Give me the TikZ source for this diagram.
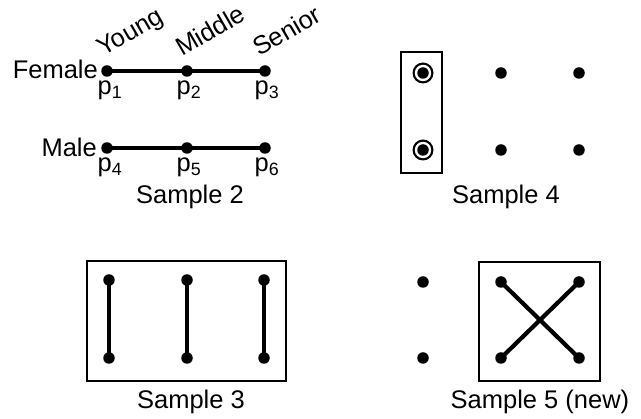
\documentclass[tikz,border=0pt]{standalone}
\usepackage{fontspec}
\setmainfont{Liberation Sans}
\begin{document}
\begin{tikzpicture}[x=1pt,y=-1pt,
  dot/.style={circle,fill=black,inner sep=0pt,minimum size=11.5pt},
  edge/.style={line width=4.2pt},
  frame/.style={draw,line width=2pt},
  lbl/.style={font=\fontsize{25.5}{30}\selectfont,inner sep=0pt},
  rlbl/.style={lbl,rotate=30,anchor=base west}]
\useasboundingbox (0,0) rectangle (641,419);
% Sample 2
\node[dot] (p1) at (107,71) {};
\node[dot] (p2) at (187,71) {};
\node[dot] (p3) at (265,71) {};
\node[dot] (p4) at (107,148) {};
\node[dot] (p5) at (187,148) {};
\node[dot] (p6) at (265,148) {};
\draw[edge] (p1.center) -- (p2.center) -- (p3.center);
\draw[edge] (p4.center) -- (p5.center) -- (p6.center);
\node[lbl,anchor=base east] (female) at (98,79) {Female};
\node[lbl,anchor=base east] (male) at (97,157) {Male};
\node[rlbl] (young) at (103,57) {Young};
\node[rlbl] (middle) at (182,57) {Middle};
\node[rlbl] (senior) at (259,57) {Senior};
\node[lbl,anchor=base] (l1) at (110,95) {p\textsubscript{1}};
\node[lbl,anchor=base] (l2) at (189,95) {p\textsubscript{2}};
\node[lbl,anchor=base] (l3) at (267,95) {p\textsubscript{3}};
\node[lbl,anchor=base] (l4) at (110,172) {p\textsubscript{4}};
\node[lbl,anchor=base] (l5) at (189,172) {p\textsubscript{5}};
\node[lbl,anchor=base] (l6) at (267,172) {p\textsubscript{6}};
\node[lbl,anchor=base] (s2) at (190,204) {Sample 2};
% Sample 4
\draw[frame] (401,52) rectangle (442,173);
\fill[black] (423,73) circle (10.5pt);
\fill[white] (423,73) circle (8.2pt);
\node[dot] (q1) at (423,73) {};
\fill[black] (423,150) circle (10.5pt);
\fill[white] (423,150) circle (8.2pt);
\node[dot] (q4) at (423,150) {};
\node[dot] (q2) at (501,73) {};
\node[dot] (q3) at (579,73) {};
\node[dot] (q5) at (501,150) {};
\node[dot] (q6) at (579,150) {};
\node[lbl,anchor=base] (s4) at (506,204) {Sample 4};
% Sample 3
\draw[frame] (87,261) rectangle (286,381);
\node[dot] (r1) at (109,280) {};
\node[dot] (r2) at (187,280) {};
\node[dot] (r3) at (264,280) {};
\node[dot] (r4) at (109,358) {};
\node[dot] (r5) at (187,358) {};
\node[dot] (r6) at (264,358) {};
\draw[edge] (r1.center) -- (r4.center);
\draw[edge] (r2.center) -- (r5.center);
\draw[edge] (r3.center) -- (r6.center);
\node[lbl,anchor=base] (s3) at (191,409) {Sample 3};
% Sample 5
\node[dot] (t1) at (423,282) {};
\node[dot] (t4) at (423,358) {};
\draw[frame] (479,262) rectangle (600,381);
\node[dot] (t2) at (501,282) {};
\node[dot] (t3) at (579,282) {};
\node[dot] (t5) at (501,358) {};
\node[dot] (t6) at (579,358) {};
\draw[edge] (t2.center) -- (t6.center);
\draw[edge] (t3.center) -- (t5.center);
\node[lbl,anchor=base] (s5) at (540,409) {Sample 5 (new)};
\end{tikzpicture}
\end{document}
